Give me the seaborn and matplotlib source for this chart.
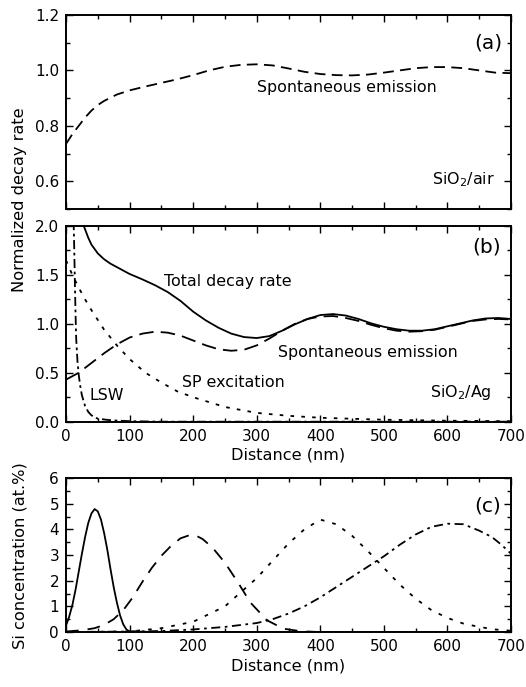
import numpy as np
import pandas as pd
import matplotlib
matplotlib.use('Agg')
import matplotlib.pyplot as plt
import seaborn as sns
from matplotlib.ticker import MultipleLocator, FormatStrFormatter

# Panel (a): SiO2/air, spontaneous emission
a_x = [0, 10, 20, 30, 40, 50, 60, 80, 100, 125, 150, 175, 200, 225, 250, 275, 300,
       325, 350, 375, 400, 425, 450, 475, 500, 525, 550, 575, 600, 625, 650, 675, 700]
a_spont = [0.735, 0.77, 0.80, 0.83, 0.855, 0.875, 0.89, 0.913, 0.928, 0.942, 0.955, 0.968,
           0.983, 1.0, 1.013, 1.02, 1.022, 1.018, 1.007, 0.995, 0.987, 0.983, 0.982, 0.985,
           0.992, 1.0, 1.008, 1.012, 1.012, 1.008, 1.0, 0.992, 0.99]

# Panel (b): SiO2/Ag
b_total_x = [28, 35, 40, 50, 60, 70, 80, 100, 120, 140, 160, 180, 200, 220, 240, 260, 280,
             300, 320, 340, 360, 380, 400, 420, 440, 460, 480, 500, 520, 540, 560, 580, 600,
             620, 640, 660, 680, 700]
b_total = [2.0, 1.88, 1.81, 1.72, 1.66, 1.615, 1.58, 1.51, 1.455, 1.395, 1.325, 1.235, 1.125,
           1.035, 0.96, 0.9, 0.865, 0.855, 0.875, 0.93, 0.995, 1.05, 1.09, 1.1, 1.085, 1.05,
           1.005, 0.97, 0.945, 0.93, 0.93, 0.945, 0.975, 1.005, 1.035, 1.055, 1.06, 1.05]

b_spont_x = [0, 20, 40, 60, 80, 100, 120, 140, 160, 180, 200, 220, 240, 260, 280, 300, 320,
             340, 360, 380, 400, 420, 440, 460, 480, 500, 520, 540, 560, 580, 600, 620, 640,
             660, 680, 700]
b_spont = [0.43, 0.5, 0.6, 0.7, 0.79, 0.86, 0.9, 0.92, 0.91, 0.88, 0.83, 0.78, 0.74, 0.725,
           0.735, 0.78, 0.85, 0.93, 1.0, 1.05, 1.075, 1.08, 1.06, 1.03, 0.99, 0.955, 0.93,
           0.92, 0.925, 0.94, 0.97, 1.0, 1.03, 1.045, 1.05, 1.045]

b_sp_x = [0, 10, 20, 30, 40, 50, 60, 70, 80, 90, 100, 125, 150, 175, 200, 250, 300, 350,
          400, 450, 500, 600, 700]
b_sp = [1.65, 1.5, 1.37, 1.25, 1.14, 1.04, 0.94, 0.86, 0.78, 0.71, 0.64, 0.5, 0.4, 0.31,
        0.25, 0.15, 0.09, 0.06, 0.04, 0.03, 0.02, 0.01, 0.005]

b_lsw_x = [12, 13, 14, 15, 16, 18, 20, 22, 25, 30, 35, 40, 50, 70, 100, 150, 700]
b_lsw = [2.05, 1.75, 1.4, 1.1, 0.85, 0.62, 0.48, 0.38, 0.27, 0.16, 0.1, 0.065, 0.03, 0.015,
         0.005, 0.0, 0.0]

# Panel (c): Si concentration profiles
c_solid_x = [0, 5, 10, 15, 20, 25, 30, 35, 40, 45, 50, 55, 60, 65, 70, 75, 80, 85, 90, 95,
             100, 150, 700]
c_solid = [0.25, 0.6, 1.05, 1.65, 2.35, 3.05, 3.7, 4.25, 4.62, 4.79, 4.7, 4.38, 3.85, 3.2,
           2.45, 1.75, 1.15, 0.65, 0.3, 0.1, 0.02, 0.0, 0.0]

c_dash_x = [0, 25, 45, 60, 75, 90, 105, 120, 135, 150, 165, 180, 195, 205, 215, 230, 250,
            270, 290, 316, 342, 370, 400, 700]
c_dash = [0.02, 0.07, 0.15, 0.28, 0.5, 0.85, 1.35, 1.95, 2.5, 2.97, 3.35, 3.65, 3.78, 3.75,
          3.62, 3.3, 2.7, 1.95, 1.15, 0.46, 0.13, 0.03, 0.0, 0.0]

c_dot_x = [0, 100, 150, 200, 250, 300, 350, 375, 400, 425, 450, 475, 500, 525, 550, 575,
           600, 625, 650, 675, 700]
c_dot = [0.0, 0.02, 0.15, 0.4, 1.0, 2.1, 3.45, 4.0, 4.38, 4.2, 3.75, 3.15, 2.5, 1.85, 1.3,
         0.85, 0.55, 0.33, 0.2, 0.1, 0.05]

c_dashdot_x = [0, 100, 150, 200, 250, 300, 325, 350, 375, 400, 450, 500, 525, 550, 575, 600,
               625, 650, 670, 685, 700]
c_dashdot = [0.0, 0.02, 0.04, 0.1, 0.2, 0.35, 0.5, 0.72, 1.0, 1.35, 2.15, 2.95, 3.4, 3.8,
             4.1, 4.22, 4.2, 3.95, 3.7, 3.4, 3.05]

sns.set_style('ticks')
plt.rcParams['font.family'] = ['DejaVu Sans']
plt.rcParams['mathtext.fontset'] = 'dejavusans'
for key in ['text.color', 'axes.labelcolor', 'xtick.color', 'ytick.color', 'axes.edgecolor']:
    plt.rcParams[key] = 'black'

fig = plt.figure(figsize=(5.26, 6.87), dpi=100)
ax_a = fig.add_axes([0.1255, 0.6958, 0.846, 0.2824])
ax_b = fig.add_axes([0.1255, 0.3862, 0.846, 0.2848])
ax_c = fig.add_axes([0.1255, 0.0800, 0.846, 0.2242])

lw = 1.3
sns.lineplot(x=a_x, y=a_spont, ax=ax_a, color='k', lw=lw, linestyle=(0, (6, 3.5)), errorbar=None)

sns.lineplot(x=b_total_x, y=b_total, ax=ax_b, color='k', lw=lw, errorbar=None)
sns.lineplot(x=b_spont_x, y=b_spont, ax=ax_b, color='k', lw=lw, linestyle=(0, (8, 4)), errorbar=None)
sns.lineplot(x=b_sp_x, y=b_sp, ax=ax_b, color='k', lw=lw, linestyle=(0, (2, 4)), errorbar=None)
sns.lineplot(x=b_lsw_x, y=b_lsw, ax=ax_b, color='k', lw=lw, linestyle=(0, (5, 2, 1.5, 2)), errorbar=None)

sns.lineplot(x=c_solid_x, y=c_solid, ax=ax_c, color='k', lw=lw, errorbar=None)
sns.lineplot(x=c_dash_x, y=c_dash, ax=ax_c, color='k', lw=lw, linestyle=(0, (7, 5)), errorbar=None)
sns.lineplot(x=c_dot_x, y=c_dot, ax=ax_c, color='k', lw=lw, linestyle=(0, (2, 4.5)), errorbar=None)
sns.lineplot(x=c_dashdot_x, y=c_dashdot, ax=ax_c, color='k', lw=lw, linestyle=(0, (5, 2.5, 1.5, 2.5)), errorbar=None)

for ax in (ax_a, ax_b, ax_c):
    ax.set_xlim(0, 700)
    ax.xaxis.set_major_locator(MultipleLocator(100))
    ax.xaxis.set_minor_locator(MultipleLocator(50))
    ax.tick_params(which='major', length=5, width=1, labelsize=11, pad=5)
    ax.tick_params(which='minor', length=3, width=1)
    ax.tick_params(which='both', direction='in', top=True, right=True, colors='black')
    for s in ax.spines.values():
        s.set_linewidth(1.4)
        s.set_color('black')

ax_a.set_ylim(0.5, 1.2)
ax_a.yaxis.set_major_locator(MultipleLocator(0.2))
ax_a.yaxis.set_minor_locator(MultipleLocator(0.1))
ax_a.set_yticks([0.6, 0.8, 1.0, 1.2])
ax_a.set_xticklabels([])
ax_a.set_ylabel('')

ax_b.set_ylim(0, 2.0)
ax_b.yaxis.set_major_locator(MultipleLocator(0.5))
ax_b.yaxis.set_minor_locator(MultipleLocator(0.25))
ax_b.yaxis.set_major_formatter(FormatStrFormatter('%.1f'))
ax_b.set_xlabel('Distance (nm)', fontsize=11.6, labelpad=3)

ax_c.set_ylim(0, 6)
ax_c.yaxis.set_major_locator(MultipleLocator(1))
ax_c.yaxis.set_minor_locator(MultipleLocator(0.5))
ax_c.set_xlabel('Distance (nm)', fontsize=11.6, labelpad=3)
ax_c.set_ylabel('')

# y labels placed in figure coordinates so both line up at the same x
fig.text(0.038, 0.709, 'Normalized decay rate', rotation=90, ha='center', va='center', fontsize=11.7)
fig.text(0.038, 1 - 556 / 687, 'Si concentration (at.%)', rotation=90, ha='center', va='center', fontsize=11.7)

fs = 11.4
ax_a.text(0.98, 0.856, '(a)', transform=ax_a.transAxes, ha='right', va='center', fontsize=14.5)
ax_a.text(0.632, 0.624, 'Spontaneous emission', transform=ax_a.transAxes, ha='center', va='center', fontsize=fs)
ax_a.text(0.964, 0.15, r'SiO$_2$/air', transform=ax_a.transAxes, ha='right', va='center', fontsize=fs)

ax_b.text(0.977, 0.893, '(b)', transform=ax_b.transAxes, ha='right', va='center', fontsize=14.5)
ax_b.text(0.364, 0.714, 'Total decay rate', transform=ax_b.transAxes, ha='center', va='center', fontsize=fs)
ax_b.text(0.678, 0.356, 'Spontaneous emission', transform=ax_b.transAxes, ha='center', va='center', fontsize=fs)
ax_b.text(0.377, 0.198, 'SP excitation', transform=ax_b.transAxes, ha='center', va='center', fontsize=fs)
ax_b.text(0.091, 0.136, 'LSW', transform=ax_b.transAxes, ha='center', va='center', fontsize=fs)
ax_b.text(0.957, 0.147, r'SiO$_2$/Ag', transform=ax_b.transAxes, ha='right', va='center', fontsize=fs)

ax_c.text(0.977, 0.818, '(c)', transform=ax_c.transAxes, ha='right', va='center', fontsize=14.5)

fig.savefig('out.png', dpi=100)
